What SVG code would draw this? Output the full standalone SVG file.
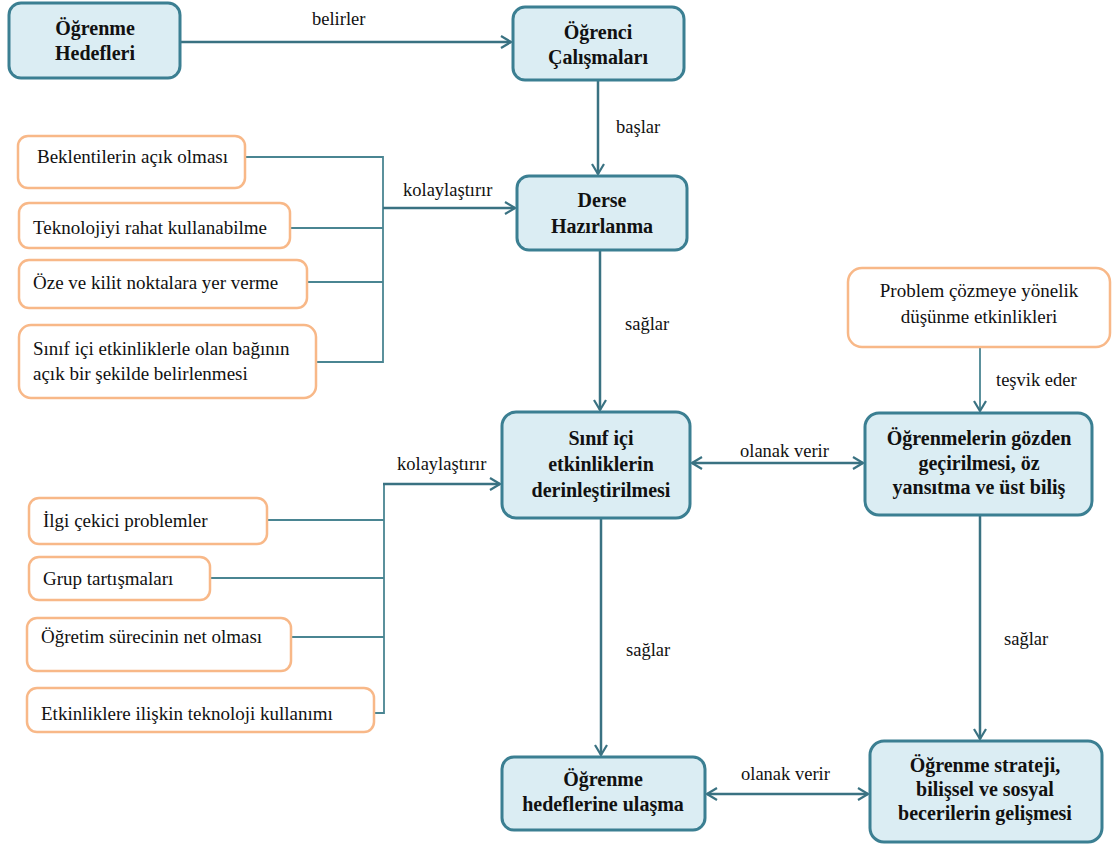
<svg xmlns="http://www.w3.org/2000/svg" width="1120" height="845" viewBox="0 0 1120 845">
<style>
.bn{fill:#dbedf3;stroke:#3b7f92;stroke-width:3}
.on{fill:#fff;stroke:#f8b888;stroke-width:2.5}
text{font-family:"Liberation Serif","Times New Roman","DejaVu Serif",serif;fill:#111}
.bt{font-weight:bold;font-size:20px;text-anchor:middle}
.ot{font-size:19px}
.lb{font-size:18.5px}
.c{fill:none;stroke:#3a7282;stroke-width:2.5}
.ct{fill:none;stroke:#4a8592;stroke-width:1.8}
</style>
<defs>
<marker id="ah" viewBox="0 0 12 14" refX="11" refY="7" markerWidth="12" markerHeight="14" markerUnits="userSpaceOnUse" orient="auto-start-reverse">
<path d="M1,1 L11,7 L1,13" fill="none" stroke="#3a7282" stroke-width="2.2"/>
</marker>
</defs>
<g id="connectors">
<line class="c" x1="180" y1="42" x2="511" y2="42" marker-end="url(#ah)"/>
<line class="c" x1="598" y1="80" x2="598" y2="174" marker-end="url(#ah)"/>
<line class="c" x1="600" y1="250" x2="600" y2="410" marker-end="url(#ah)"/>
<line class="c" x1="601" y1="518" x2="601" y2="755" marker-end="url(#ah)"/>
<line class="c" x1="980" y1="515" x2="980" y2="739" marker-end="url(#ah)"/>
<line class="ct" x1="980" y1="347" x2="980" y2="411" marker-end="url(#ah)"/>
<line class="c" x1="692" y1="463" x2="863" y2="463" marker-start="url(#ah)" marker-end="url(#ah)"/>
<line class="c" x1="707" y1="794" x2="868" y2="794" marker-start="url(#ah)" marker-end="url(#ah)"/>
<polyline class="ct" points="245,157 383,157 383,362 316,362"/>
<line class="ct" x1="290" y1="228" x2="383" y2="228"/>
<line class="ct" x1="307" y1="282" x2="383" y2="282"/>
<line class="c" x1="383" y1="208" x2="515" y2="208" marker-end="url(#ah)"/>
<line class="ct" x1="267" y1="520" x2="384" y2="520"/>
<line class="ct" x1="210" y1="578" x2="384" y2="578"/>
<line class="ct" x1="291" y1="637" x2="384" y2="637"/>
<polyline class="ct" points="374,713 384,713 384,484"/>
<line class="c" x1="383" y1="484" x2="500" y2="484" marker-end="url(#ah)"/>
<text class="lb" x="312" y="25">belirler</text>
<text class="lb" x="616" y="133">başlar</text>
<text class="lb" x="403" y="196">kolaylaştırır</text>
<text class="lb" x="625" y="330">sağlar</text>
<text class="lb" x="397" y="470">kolaylaştırır</text>
<text class="lb" x="740" y="457">olanak verir</text>
<text class="lb" x="996" y="386">teşvik eder</text>
<text class="lb" x="626" y="656">sağlar</text>
<text class="lb" x="1004" y="645">sağlar</text>
<text class="lb" x="741" y="780">olanak verir</text>
</g>
<g id="n1"><rect class="bn" x="9" y="3" width="171" height="75" rx="12"/><text class="bt" x="95" y="35">Öğrenme</text><text class="bt" x="95" y="60">Hedefleri</text></g>
<g id="n2"><rect class="bn" x="513" y="7" width="171" height="73" rx="12"/><text class="bt" x="598" y="39">Öğrenci</text><text class="bt" x="598" y="64">Çalışmaları</text></g>
<g id="n3"><rect class="bn" x="517" y="176" width="170" height="74" rx="12"/><text class="bt" x="602" y="207">Derse</text><text class="bt" x="602" y="233">Hazırlanma</text></g>
<g id="n4"><rect class="bn" x="502" y="412" width="188" height="106" rx="14"/><text class="bt" x="601" y="445">Sınıf içi</text><text class="bt" x="601" y="471">etkinliklerin</text><text class="bt" x="601" y="497">derinleştirilmesi</text></g>
<g id="n5"><rect class="bn" x="865" y="413" width="227" height="102" rx="14"/><text class="bt" x="979" y="445">Öğrenmelerin gözden</text><text class="bt" x="979" y="470">geçirilmesi, öz</text><text class="bt" x="979" y="494">yansıtma  ve üst biliş</text></g>
<g id="n6"><rect class="bn" x="502" y="757" width="203" height="73" rx="12"/><text class="bt" x="603" y="786">Öğrenme</text><text class="bt" x="603" y="811">hedeflerine ulaşma</text></g>
<g id="n7"><rect class="bn" x="870" y="741" width="232" height="101" rx="14"/><text class="bt" x="985" y="772">Öğrenme strateji,</text><text class="bt" x="985" y="796">bilişsel ve sosyal</text><text class="bt" x="985" y="820">becerilerin gelişmesi</text></g>
<g id="o1"><rect class="on" x="18" y="136" width="227" height="52" rx="10"/><text class="ot" x="37" y="163">Beklentilerin  açık  olması</text></g>
<g id="o2"><rect class="on" x="19" y="203" width="271" height="45" rx="10"/><text class="ot" x="33" y="234">Teknolojiyi rahat kullanabilme</text></g>
<g id="o3"><rect class="on" x="19" y="260" width="288" height="48" rx="10"/><text class="ot" x="33" y="289">Öze ve  kilit  noktalara  yer  verme</text></g>
<g id="o4"><rect class="on" x="19" y="325" width="297" height="73" rx="12"/><text class="ot" x="33" y="355">Sınıf  içi  etkinliklerle  olan  bağının</text><text class="ot" x="33" y="380">açık  bir  şekilde  belirlenmesi</text></g>
<g id="o5"><rect class="on" x="848" y="268" width="262" height="79" rx="14"/><text class="ot" x="979" y="297" text-anchor="middle">Problem çözmeye yönelik</text><text class="ot" x="979" y="323" text-anchor="middle">düşünme etkinlikleri</text></g>
<g id="o6"><rect class="on" x="29" y="498" width="238" height="46" rx="10"/><text class="ot" x="43" y="527">İlgi  çekici  problemler</text></g>
<g id="o7"><rect class="on" x="29" y="557" width="181" height="43" rx="10"/><text class="ot" x="43" y="585">Grup tartışmaları</text></g>
<g id="o8"><rect class="on" x="27" y="618" width="264" height="53" rx="10"/><text class="ot" x="41" y="643">Öğretim  sürecinin  net  olması</text></g>
<g id="o9"><rect class="on" x="27" y="688" width="347" height="44" rx="10"/><text class="ot" x="41" y="720">Etkinliklere  ilişkin  teknoloji  kullanımı</text></g>
</svg>
